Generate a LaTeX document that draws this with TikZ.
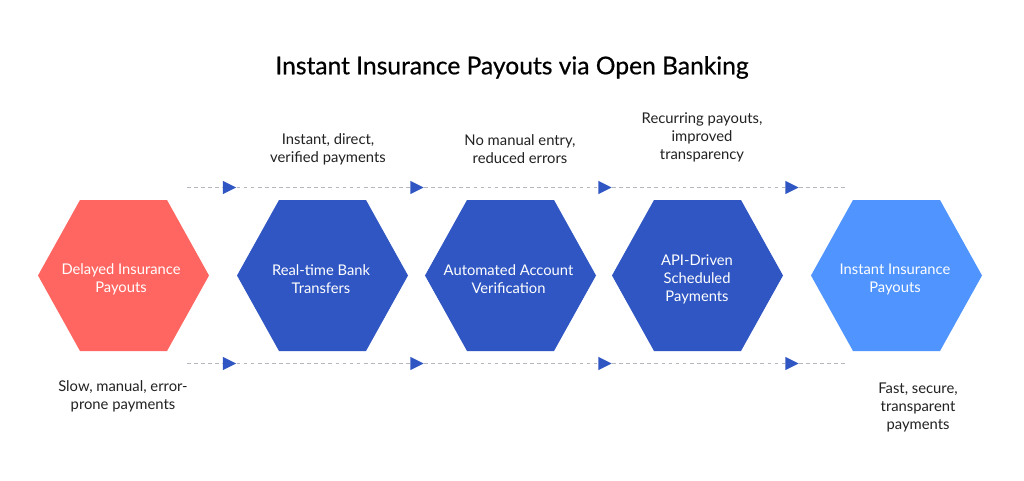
\documentclass[tikz,border=0pt]{standalone}
\usepackage{fontspec}
\setmainfont{Lato}
\usetikzlibrary{shapes.geometric}
\definecolor{redhex}{HTML}{FF6661}
\definecolor{bluehex}{HTML}{2F56C2}
\definecolor{lighthex}{HTML}{4F94FF}
\definecolor{inktext}{HTML}{222222}
\definecolor{dashgrey}{HTML}{B4B7BC}
\tikzset{
  x=0.75pt,y=-0.75pt,
  hexlabel/.style={align=center,text=white,font=\fontsize{11.05}{13.5}\selectfont,inner sep=0pt},
  note/.style={align=center,text=inktext,font=\fontsize{11.1}{13.5}\selectfont,inner sep=0pt},
  headline/.style={text=black,font=\fontsize{18.45}{22}\selectfont\addfontfeatures{FakeBold=0.6},inner sep=0pt},
  flow/.style={draw=dashgrey,line width=0.6pt,dash pattern=on 2.8pt off 2.5pt},
  tip/.style={isosceles triangle,isosceles triangle apex angle=60,isosceles triangle stretches,fill=bluehex,draw=none,inner sep=0pt,minimum width=9.8pt,minimum height=9.8pt,anchor=center}
}
\newcommand{\hexshape}[3]{\fill[#2] (#1-85.5,275.5) -- (#1-43.5,200) -- (#1+43.5,200) -- (#1+85.5,275.5) -- (#1+43.5,351) -- (#1-43.5,351) -- cycle;}
\begin{document}
\begin{tikzpicture}
\useasboundingbox (0,0) rectangle (1024,481);
\fill[white] (0,0) rectangle (1024,481);
\node[headline] (title) at (512,67.5) {Instant Insurance Payouts via Open Banking};
\hexshape{123.5}{redhex}{}
\hexshape{322.5}{bluehex}{}
\hexshape{510.5}{bluehex}{}
\hexshape{697.5}{bluehex}{}
\hexshape{896.5}{lighthex}{}
\node[hexlabel] (h1) at (121,279) {Delayed Insurance\\Payouts};
\node[hexlabel] (h2) at (321,279) {Real-time Bank\\Transfers};
\node[hexlabel] (h3) at (508.5,279) {Automated Account\\Verification};
\node[hexlabel] (h4) at (697,279) {API-Driven\\Scheduled\\Payments};
\node[hexlabel] (h5) at (895,279) {Instant Insurance\\Payouts};
\node[note] (n2) at (328,149) {Instant, direct,\\verified payments};
\node[note] (n3) at (520,149) {No manual entry,\\reduced errors};
\node[note] (n4) at (702,137.5) {Recurring payouts,\\improved\\transparency};
\node[note] (n1) at (123,396) {Slow, manual, error-\\prone payments};
\node[note] (n5) at (918,407.5) {Fast, secure,\\transparent\\payments};
\foreach \r/\y in {a/187.5,b/363.5}{
  \coordinate (\r s) at (187,\y);
  \coordinate (\r e) at (845,\y);
  \node[tip] (\r1) at (227,\y) {};
  \node[tip] (\r2) at (414.5,\y) {};
  \node[tip] (\r3) at (602.5,\y) {};
  \node[tip] (\r4) at (789.5,\y) {};
  \draw[flow] (\r s) -- (\r1);
  \draw[flow] (\r1) -- (\r2);
  \draw[flow] (\r2) -- (\r3);
  \draw[flow] (\r3) -- (\r4);
  \draw[flow] (\r4) -- (\r e);
}
\end{tikzpicture}
\end{document}
